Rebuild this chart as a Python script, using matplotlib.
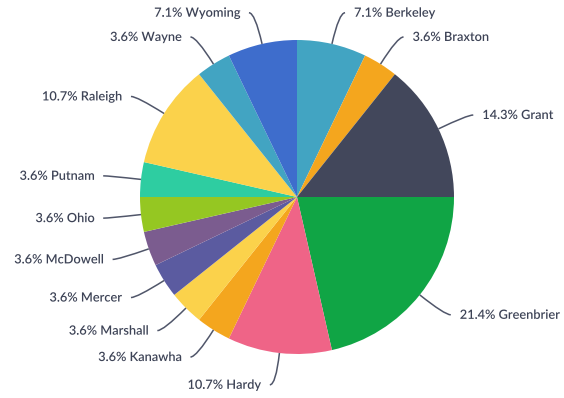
import numpy as np
import matplotlib.pyplot as plt
import matplotlib.patheffects as pe
from matplotlib.path import Path
from matplotlib.patches import PathPatch

# county counts, clockwise from 12 o'clock
counties = ["Berkeley", "Braxton", "Grant", "Greenbrier", "Hardy", "Kanawha",
            "Marshall", "Mercer", "McDowell", "Ohio", "Putnam", "Raleigh",
            "Wayne", "Wyoming"]
counts = [2, 1, 4, 6, 3, 1, 1, 1, 1, 1, 1, 3, 1, 2]
colors = ["#42a4c2", "#f4a61e", "#42475b", "#10a545", "#ef6487", "#f4a61e",
          "#fbd24b", "#5b5ba0", "#7b5c8f", "#95c722", "#2ecda1", "#fbd24b",
          "#42a4c2", "#3e6dcc"]

W, H = 564, 398
fig = plt.figure(figsize=(W / 100, H / 100), dpi=100)
ax = fig.add_axes([0, 0, 1, 1])

cx, cy, r = 297, H - 197, 157
wedges, _ = ax.pie(counts, colors=colors, startangle=90, counterclock=False,
                   center=(cx, cy), radius=r, frame=True,
                   wedgeprops=dict(linewidth=0, antialiased=True))

total = sum(counts)
for w, name, n in zip(wedges, counties, counts):
    mid = np.deg2rad((w.theta1 + w.theta2) / 2)
    c, s = np.cos(mid), np.sin(mid)
    p0 = (cx + r * c, cy + r * s)
    p1 = (cx + (r + 32) * c, cy + (r + 32) * s)
    side = 1 if c >= 0 else -1
    p2 = (p1[0] + 6 * side, p1[1])
    path = Path([p0, p1, p2], [Path.MOVETO, Path.CURVE3, Path.CURVE3])
    ax.add_patch(PathPatch(path, fill=False, edgecolor="#50566a", lw=1.1))
    ax.text(p2[0] + 9 * side, p2[1], f"{n / total * 100:.1f}% {name}",
            ha="left" if side > 0 else "right", va="center",
            fontsize=9.2, family="Lato", weight="semibold", color="#3d4356",
            path_effects=[pe.withStroke(linewidth=2.5, foreground="white")])

ax.set_xlim(0, W)
ax.set_ylim(0, H)
ax.set_aspect("equal")
ax.axis("off")

fig.savefig("out.png", dpi=100)
